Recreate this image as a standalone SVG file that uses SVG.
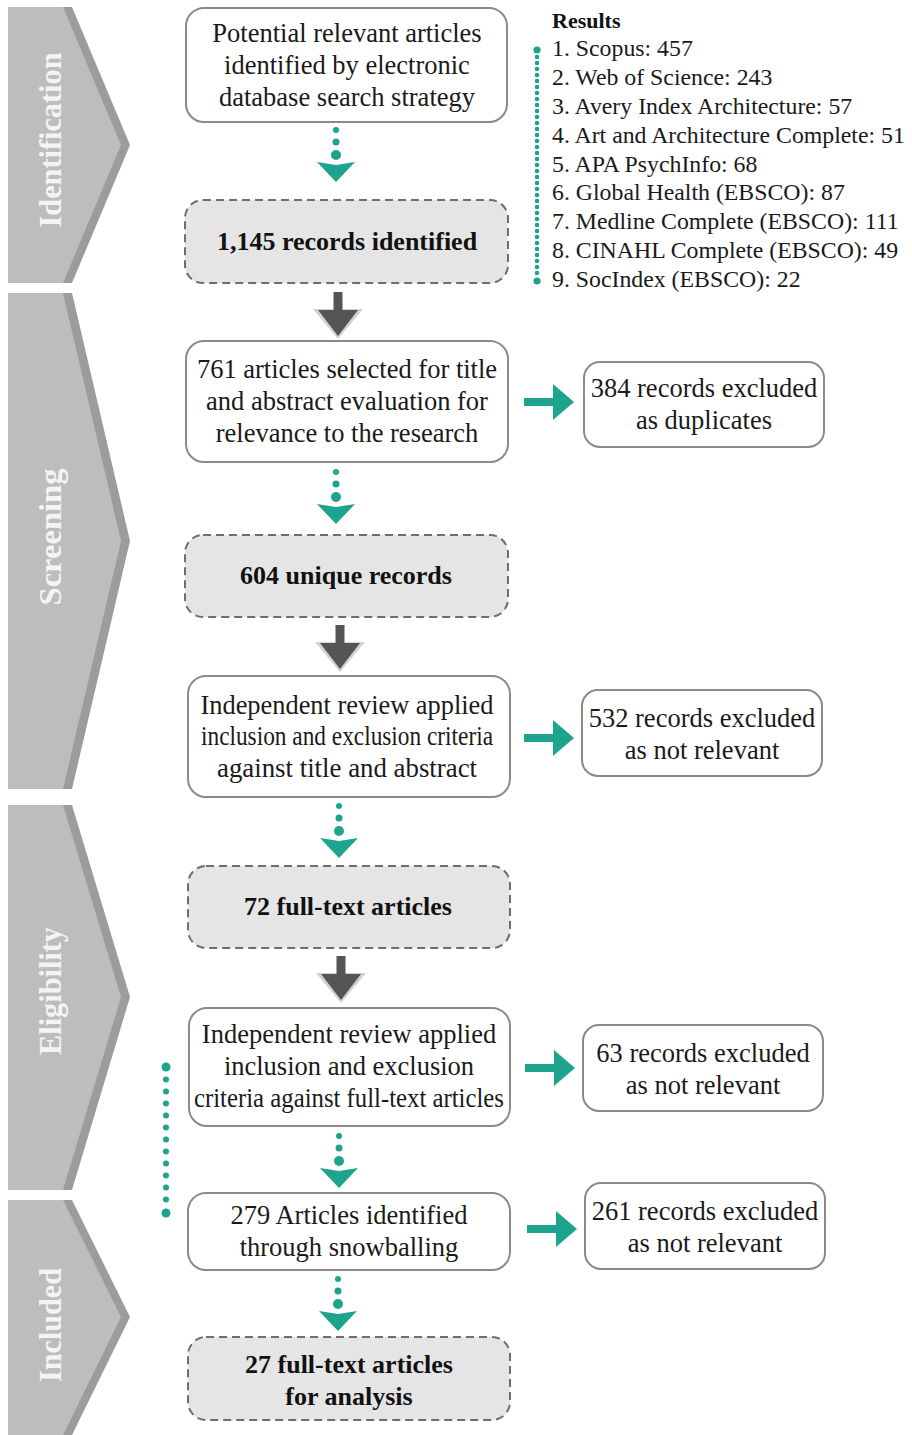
<svg xmlns="http://www.w3.org/2000/svg" width="912" height="1435" viewBox="0 0 912 1435">
<defs>
<style>
.chevD{fill:#9c9c9c}
.chevL{fill:#bdbdbd}
.stage{font-family:"Liberation Serif","Times New Roman",serif;font-weight:bold;font-size:31px;fill:#f4f4f4;text-anchor:middle}
.box{fill:#ffffff;stroke:#8a8a8a;stroke-width:2}
.dbox{fill:#e5e5e5;stroke:#6e6e6e;stroke-width:2;stroke-dasharray:8 5}
.t{font-family:"Liberation Serif","Times New Roman",serif;font-size:26.5px;fill:#1a1a1a;text-anchor:middle}
.tb{font-family:"Liberation Serif","Times New Roman",serif;font-size:26px;font-weight:bold;fill:#111;text-anchor:middle}
.r{font-family:"Liberation Serif","Times New Roman",serif;font-size:23.8px;fill:#1a1a1a}
.rb{font-family:"Liberation Serif","Times New Roman",serif;font-size:22px;font-weight:bold;fill:#111}
.teal{fill:#1ea48e}
.dk{fill:#555555}
.halo{fill:#d2d2d2}
</style>
<g id="dotarrow">
<circle cx="0" cy="0" r="3" class="teal"/>
<circle cx="0" cy="12" r="3.5" class="teal"/>
<circle cx="0" cy="25" r="5" class="teal"/>
<path d="M-19,32 L0,35 L19,32 L0,52 Z" class="teal"/>
</g>
<g id="darrow">
<polygon points="-25,17 25,17 0,47" class="halo"/>
<rect x="-4.5" y="0" width="9" height="24" class="dk"/>
<polygon points="-20,18 20,18 0,44" class="dk"/>
</g>
<g id="tarrow">
<rect x="0" y="-4" width="31" height="8" class="teal"/>
<polygon points="29,-18 50,0 29,18" class="teal"/>
</g>
</defs>
<rect width="912" height="1435" fill="#ffffff"/>

<g id="stage-identification">
<polygon class="chevD" points="8,7 72,7 130,145 72,283 8,283"/>
<polygon class="chevL" points="8,7 63,7 121,145 63,283 8,283"/>
<text class="stage" transform="translate(61,140) rotate(-90)" textLength="175" lengthAdjust="spacingAndGlyphs">Identification</text>
</g>
<g id="stage-screening">
<polygon class="chevD" points="8,293 72,293 130,541 72,789 8,789"/>
<polygon class="chevL" points="8,293 63,293 121,541 63,789 8,789"/>
<text class="stage" transform="translate(61,537) rotate(-90)" textLength="137" lengthAdjust="spacingAndGlyphs">Screening</text>
</g>
<g id="stage-eligibility">
<polygon class="chevD" points="8,805 72,805 130,997 72,1190 8,1190"/>
<polygon class="chevL" points="8,805 63,805 121,997 63,1190 8,1190"/>
<text class="stage" transform="translate(61,991) rotate(-90)" textLength="128" lengthAdjust="spacingAndGlyphs">Eligibility</text>
</g>
<g id="stage-included">
<polygon class="chevD" points="8,1200 72,1200 130,1317 72,1435 8,1435"/>
<polygon class="chevL" points="8,1200 63,1200 121,1317 63,1435 8,1435"/>
<text class="stage" transform="translate(61,1325) rotate(-90)" textLength="114" lengthAdjust="spacingAndGlyphs">Included</text>
</g>

<g id="results">
<text class="rb" x="552" y="28">Results</text>
<text class="r" x="552" y="56">1. Scopus: 457</text>
<text class="r" x="552" y="85">2. Web of Science: 243</text>
<text class="r" x="552" y="114">3. Avery Index Architecture: 57</text>
<text class="r" x="552" y="143">4. Art and Architecture Complete: 51</text>
<text class="r" x="552" y="172">5. APA PsychInfo: 68</text>
<text class="r" x="552" y="200">6. Global Health (EBSCO): 87</text>
<text class="r" x="552" y="229">7. Medline Complete (EBSCO): 111</text>
<text class="r" x="552" y="258">8. CINAHL Complete (EBSCO): 49</text>
<text class="r" x="552" y="287">9. SocIndex (EBSCO): 22</text>
</g>

<g id="n1">
<rect class="box" x="186" y="8" width="321" height="114" rx="18"/>
<text class="t" x="347" y="42">Potential relevant articles</text>
<text class="t" x="347" y="74">identified by electronic</text>
<text class="t" x="347" y="106">database search strategy</text>
</g>
<g id="n2">
<rect class="dbox" x="185" y="200" width="323" height="83" rx="18"/>
<text class="tb" x="347" y="250">1,145 records identified</text>
</g>
<g id="n3">
<rect class="box" x="186" y="341" width="322" height="121" rx="18"/>
<text class="t" x="347" y="378">761 articles selected for title</text>
<text class="t" x="347" y="410">and abstract evaluation for</text>
<text class="t" x="347" y="442">relevance to the research</text>
</g>
<g id="n3x">
<rect class="box" x="584" y="362" width="240" height="85" rx="16"/>
<text class="t" x="704" y="397">384 records excluded</text>
<text class="t" x="704" y="429">as duplicates</text>
</g>
<g id="n4">
<rect class="dbox" x="185" y="535" width="323" height="82" rx="18"/>
<text class="tb" x="346" y="584">604 unique records</text>
</g>
<g id="n5">
<rect class="box" x="188" y="676" width="322" height="121" rx="18"/>
<text class="t" x="347" y="714" textLength="293" lengthAdjust="spacingAndGlyphs">Independent review applied</text>
<text class="t" x="347" y="745" textLength="292" lengthAdjust="spacingAndGlyphs">inclusion and exclusion criteria</text>
<text class="t" x="347" y="777" textLength="260" lengthAdjust="spacingAndGlyphs">against title and abstract</text>
</g>
<g id="n5x">
<rect class="box" x="582" y="690" width="240" height="86" rx="16"/>
<text class="t" x="702" y="727">532 records excluded</text>
<text class="t" x="702" y="759">as not relevant</text>
</g>
<g id="n6">
<rect class="dbox" x="188" y="866" width="322" height="82" rx="18"/>
<text class="tb" x="348" y="915">72 full-text articles</text>
</g>
<g id="n7">
<rect class="box" x="189" y="1008" width="321" height="118" rx="18"/>
<text class="t" x="349" y="1043">Independent review applied</text>
<text class="t" x="349" y="1075">inclusion and exclusion</text>
<text class="t" x="349" y="1107" textLength="310" lengthAdjust="spacingAndGlyphs">criteria against full-text articles</text>
</g>
<g id="n7x">
<rect class="box" x="583" y="1025" width="240" height="86" rx="16"/>
<text class="t" x="703" y="1062">63 records excluded</text>
<text class="t" x="703" y="1094">as not relevant</text>
</g>
<g id="n8">
<rect class="box" x="188" y="1193" width="322" height="77" rx="18"/>
<text class="t" x="349" y="1224">279 Articles identified</text>
<text class="t" x="349" y="1256">through snowballing</text>
</g>
<g id="n8x">
<rect class="box" x="585" y="1183" width="240" height="86" rx="16"/>
<text class="t" x="705" y="1220">261 records excluded</text>
<text class="t" x="705" y="1252">as not relevant</text>
</g>
<g id="n9">
<rect class="dbox" x="188" y="1337" width="322" height="83" rx="18"/>
<text class="tb" x="349" y="1373">27 full-text articles</text>
<text class="tb" x="349" y="1405">for analysis</text>
</g>

<g id="connectors">
<use href="#dotarrow" x="336" y="130"/>
<use href="#dotarrow" x="336" y="472"/>
<use href="#dotarrow" x="339" y="806"/>
<use href="#dotarrow" x="339" y="1136"/>
<use href="#dotarrow" x="338" y="1279"/>
<use href="#darrow" x="338" y="292"/>
<use href="#darrow" x="340" y="625"/>
<use href="#darrow" x="341" y="956"/>
<use href="#tarrow" x="524" y="402"/>
<use href="#tarrow" x="524" y="738"/>
<use href="#tarrow" x="525" y="1068"/>
<use href="#tarrow" x="527" y="1229"/>
<g id="results-dots" class="teal">
<circle cx="537" cy="50" r="3.6"/>
<circle cx="537" cy="57" r="2.3"/><circle cx="537" cy="63" r="2.3"/><circle cx="537" cy="69" r="2.3"/><circle cx="537" cy="75" r="2.3"/><circle cx="537" cy="81" r="2.3"/><circle cx="537" cy="87" r="2.3"/><circle cx="537" cy="93" r="2.3"/><circle cx="537" cy="99" r="2.3"/><circle cx="537" cy="105" r="2.3"/><circle cx="537" cy="111" r="2.3"/><circle cx="537" cy="117" r="2.3"/><circle cx="537" cy="123" r="2.3"/><circle cx="537" cy="129" r="2.3"/><circle cx="537" cy="135" r="2.3"/><circle cx="537" cy="141" r="2.3"/><circle cx="537" cy="147" r="2.3"/><circle cx="537" cy="153" r="2.3"/><circle cx="537" cy="159" r="2.3"/><circle cx="537" cy="165" r="2.3"/><circle cx="537" cy="171" r="2.3"/><circle cx="537" cy="177" r="2.3"/><circle cx="537" cy="183" r="2.3"/><circle cx="537" cy="189" r="2.3"/><circle cx="537" cy="195" r="2.3"/><circle cx="537" cy="201" r="2.3"/><circle cx="537" cy="207" r="2.3"/><circle cx="537" cy="213" r="2.3"/><circle cx="537" cy="219" r="2.3"/><circle cx="537" cy="225" r="2.3"/><circle cx="537" cy="231" r="2.3"/><circle cx="537" cy="237" r="2.3"/><circle cx="537" cy="243" r="2.3"/><circle cx="537" cy="249" r="2.3"/><circle cx="537" cy="255" r="2.3"/><circle cx="537" cy="261" r="2.3"/><circle cx="537" cy="267" r="2.3"/><circle cx="537" cy="273" r="2.3"/>
<circle cx="537" cy="281" r="3.6"/>
</g>
<g id="snowball-dots" class="teal">
<circle cx="166" cy="1067" r="4.5"/>
<circle cx="166" cy="1079.5" r="3"/><circle cx="166" cy="1091.5" r="3"/><circle cx="166" cy="1103.5" r="3"/><circle cx="166" cy="1115.5" r="3"/><circle cx="166" cy="1127.5" r="3"/><circle cx="166" cy="1139.5" r="3"/><circle cx="166" cy="1151.5" r="3"/><circle cx="166" cy="1163.5" r="3"/><circle cx="166" cy="1175.5" r="3"/><circle cx="166" cy="1187.5" r="3"/><circle cx="166" cy="1199.5" r="3"/>
<circle cx="166" cy="1213" r="4.5"/>
</g>
</g>
</svg>
